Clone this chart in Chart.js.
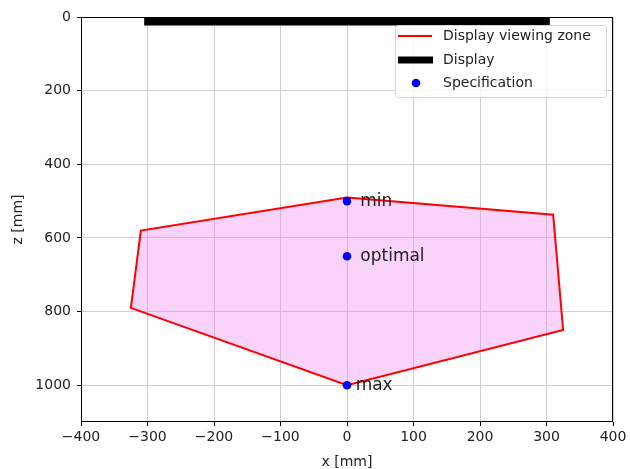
<!DOCTYPE html>
<html>
<head>
<meta charset="utf-8">
<script src="https://cdn.jsdelivr.net/npm/chart.js@4"></script>
<style>
  html, body { margin: 0; padding: 0; background: #fff; }
  #wrap { width: 630px; height: 469px; }
</style>
</head>
<body>
<div id="wrap"><canvas id="chart" width="630" height="469"></canvas></div>
<script>
// viewing zone outline (x, z in mm), closed
const zoneX = [0, 310, 325, 0, -325, -310, 0];
const zoneZ = [490, 537, 850, 1000, 790, 580, 490];

// display edge
const displayX = [-305, 305];
const displayZ = [12, 12];

// spec points
const specLabels = ['min', 'optimal', 'max'];
const specX = [0, 0, 0];
const specZ = [500, 650, 1000];
const specLabelDx = [20, 20, 13];

const xTicks = [-400, -300, -200, -100, 0, 100, 200, 300, 400];
const zTicks = [0, 200, 400, 600, 800, 1000];
const legendLabels = ['Display viewing zone', 'Display', 'Specification'];

const FONT = 'DejaVu Sans';
const toPts = (xs, ys) => xs.map((x, i) => ({ x, y: ys[i] }));

const frame = {
  id: 'frame',
  afterDatasetsDraw(chart) {
    const { ctx, chartArea: a, scales } = chart;
    ctx.save();
    // spec labels
    ctx.fillStyle = '#222';
    ctx.font = '17px "' + FONT + '"';
    ctx.textAlign = 'left';
    ctx.textBaseline = 'middle';
    specLabels.forEach((t, i) => {
      ctx.fillText(t, scales.x.getPixelForValue(specX[i] + specLabelDx[i]), scales.y.getPixelForValue(specZ[i]));
    });
    // axes box
    ctx.strokeStyle = '#000';
    ctx.lineWidth = 1;
    ctx.strokeRect(a.left + 0.5, a.top + 0.5, a.right - a.left - 1, a.bottom - a.top - 1);

    // legend
    const w = 211, h = 72;
    const L = a.right - 7 - w, T = a.top + 8;
    ctx.beginPath();
    ctx.roundRect(L + 0.5, T + 0.5, w, h, 3);
    ctx.fillStyle = 'rgba(255,255,255,0.8)';
    ctx.fill();
    ctx.strokeStyle = '#d6d6d6';
    ctx.stroke();
    const rows = [T + 11, T + 35, T + 58];
    ctx.lineCap = 'butt';
    ctx.strokeStyle = '#ff0000';
    ctx.lineWidth = 2;
    ctx.beginPath(); ctx.moveTo(L + 3, rows[0]); ctx.lineTo(L + 37, rows[0]); ctx.stroke();
    ctx.strokeStyle = '#000';
    ctx.lineWidth = 7;
    ctx.beginPath(); ctx.moveTo(L + 3, rows[1]); ctx.lineTo(L + 38, rows[1]); ctx.stroke();
    ctx.fillStyle = '#0000ff';
    ctx.beginPath(); ctx.arc(L + 21, rows[2], 4.3, 0, Math.PI * 2); ctx.fill();
    ctx.fillStyle = '#222';
    ctx.font = '14px "' + FONT + '"';
    legendLabels.forEach((t, i) => ctx.fillText(t, L + 48, rows[i]));
    ctx.restore();
  },
};

new Chart(document.getElementById('chart'), {
  type: 'scatter',
  data: {
    datasets: [
      {
        label: 'Specification',
        data: toPts(specX, specZ),
        backgroundColor: '#0000ff',
        borderColor: '#0000ff',
        pointRadius: 4.3,
        pointBorderWidth: 0,
        order: 0,
      },
      {
        label: 'Display',
        data: toPts(displayX, displayZ),
        showLine: true,
        borderColor: '#000',
        borderWidth: 8,
        pointRadius: 0,
        order: 1,
      },
      {
        label: 'Display viewing zone',
        data: toPts(zoneX, zoneZ),
        showLine: true,
        borderColor: '#ff0000',
        borderWidth: 2,
        backgroundColor: 'rgba(238,130,238,0.35)',
        fill: 'shape',
        pointRadius: 0,
        tension: 0,
        order: 2,
      },
    ],
  },
  options: {
    responsive: false,
    animation: false,
    events: [],
    layout: { padding: { top: 17, right: 17, left: 0, bottom: 0 } },
    plugins: { legend: { display: false }, tooltip: { enabled: false } },
    scales: {
      x: {
        type: 'linear',
        min: -400,
        max: 400,
        afterBuildTicks: (s) => { s.ticks = xTicks.map((v) => ({ value: v })); },
        afterFit: (s) => { s.height = 47; },
        grid: { color: '#cfcfcf', lineWidth: 1, tickColor: '#000', tickLength: 4 },
        border: { display: false },
        ticks: { color: '#222', padding: 3, maxRotation: 0, font: { family: FONT, size: 14 },
          callback: (v) => String(v).replace('-', '\u2212') },
        title: { display: true, text: 'x [mm]', color: '#222', font: { family: FONT, size: 14 }, padding: { top: 0, bottom: -2 } },
      },
      y: {
        type: 'linear',
        reverse: true,
        min: 0,
        max: 1100,
        afterBuildTicks: (s) => { s.ticks = zTicks.map((v) => ({ value: v })); },
        afterFit: (s) => { s.width = 81; },
        grid: { color: '#cfcfcf', lineWidth: 1, tickColor: '#000', tickLength: 4 },
        border: { display: false },
        ticks: { color: '#222', padding: 6, font: { family: FONT, size: 14 }, callback: (v) => String(v) },
        title: { display: true, text: 'z [mm]', color: '#222', font: { family: FONT, size: 14 }, padding: { top: 10, bottom: 10 } },
      },
    },
  },
  plugins: [frame],
});
</script>
</body>
</html>
